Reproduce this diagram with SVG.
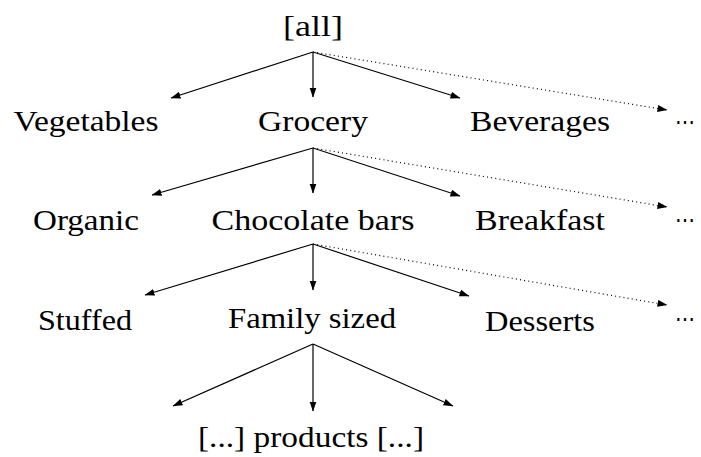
<svg xmlns="http://www.w3.org/2000/svg" width="701" height="457" viewBox="0 0 701 457">
<style>
text{font-family:"Liberation Serif","DejaVu Serif",serif;font-size:30px;fill:#000;text-anchor:middle}
.e{stroke:#000;stroke-width:1.2;fill:none;marker-end:url(#ah)}
.d{stroke:#000;stroke-width:1.2;fill:none;stroke-dasharray:1 3.2;marker-end:url(#ah)}
.dots{font-family:"DejaVu Serif",serif;font-size:24px;text-anchor:start}
</style>
<defs>
<marker id="ah" markerUnits="userSpaceOnUse" markerWidth="10" markerHeight="8" refX="9.5" refY="3.5" orient="auto">
<path d="M0,0 L10,3.5 L0,7 z" fill="#000"/>
</marker>
</defs>
<rect width="701" height="457" fill="#fff"/>
<g id="connectors">
<path class="e" d="M313,52 L171,98"/>
<path class="e" d="M313,52 L313,97"/>
<path class="e" d="M313,52 L460,98"/>
<path class="d" d="M313,52 L667,110"/>
<path class="e" d="M313,148 L152,195"/>
<path class="e" d="M313,148 L313,193"/>
<path class="e" d="M313,148 L460,196"/>
<path class="d" d="M313,148 L667,207"/>
<path class="e" d="M313,244 L145,295"/>
<path class="e" d="M313,244 L313,290"/>
<path class="e" d="M313,244 L469,296"/>
<path class="d" d="M313,244 L667,305"/>
<path class="e" d="M313,344 L173,406"/>
<path class="e" d="M313,344 L313,411"/>
<path class="e" d="M313,344 L453,406"/>
</g>
<g id="n-all"><text x="313" y="36" textLength="60" lengthAdjust="spacingAndGlyphs">[all]</text></g>
<g id="n-vegetables"><text x="86" y="131" textLength="145" lengthAdjust="spacingAndGlyphs">Vegetables</text></g>
<g id="n-grocery"><text x="313" y="131" textLength="110" lengthAdjust="spacingAndGlyphs">Grocery</text></g>
<g id="n-beverages"><text x="540" y="131" textLength="140" lengthAdjust="spacingAndGlyphs">Beverages</text></g>
<g id="n-more1"><text class="dots" x="675" y="130" textLength="20" lengthAdjust="spacingAndGlyphs">⋯</text></g>
<g id="n-organic"><text x="86" y="230" textLength="106" lengthAdjust="spacingAndGlyphs">Organic</text></g>
<g id="n-chocolate"><text x="313" y="230" textLength="203" lengthAdjust="spacingAndGlyphs">Chocolate bars</text></g>
<g id="n-breakfast"><text x="540" y="230" textLength="130" lengthAdjust="spacingAndGlyphs">Breakfast</text></g>
<g id="n-more2"><text class="dots" x="675" y="228" textLength="20" lengthAdjust="spacingAndGlyphs">⋯</text></g>
<g id="n-stuffed"><text x="85" y="330" textLength="94" lengthAdjust="spacingAndGlyphs">Stuffed</text></g>
<g id="n-family"><text x="312" y="328" textLength="168" lengthAdjust="spacingAndGlyphs">Family sized</text></g>
<g id="n-desserts"><text x="540" y="331" textLength="110" lengthAdjust="spacingAndGlyphs">Desserts</text></g>
<g id="n-more3"><text class="dots" x="675" y="327" textLength="20" lengthAdjust="spacingAndGlyphs">⋯</text></g>
<g id="n-products"><text x="311" y="447" textLength="226" lengthAdjust="spacingAndGlyphs">[...] products [...]</text></g>
</svg>
